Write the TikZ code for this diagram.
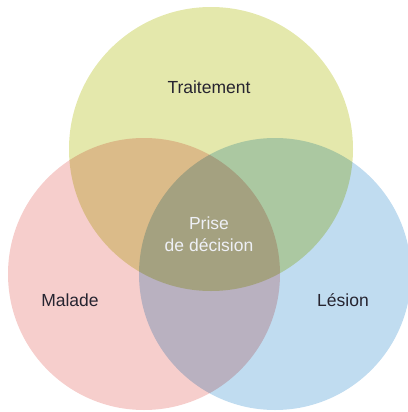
\documentclass[tikz,border=0pt]{standalone}
\usepackage{fontspec}
\setmainfont{Liberation Sans}
\usepackage{xcolor}
\usetikzlibrary{positioning}

\definecolor{traitementfill}{RGB}{228,232,172}
\definecolor{maladefill}{RGB}{246,206,204}
\definecolor{lesionfill}{RGB}{192,220,240}
\definecolor{labeltext}{RGB}{38,36,48}
\definecolor{centretext}{RGB}{238,240,246}

\begin{document}
\begin{tikzpicture}[
    x=1pt, y=-1pt,
    set node/.style={circle,inner sep=0pt,draw=none},
    set label/.style={font=\fontsize{17.5}{21}\selectfont,text=labeltext},
    centre label/.style={font=\fontsize{17.5}{22}\selectfont,text=centretext,align=center}
]
\useasboundingbox (0,0) rectangle (407,412);

% the three sets, overlaps darkened by multiplying
\begin{scope}[blend group=multiply]
\node[set node,fill=traitementfill,minimum size=284pt] (traitement) at (211,149) {};
\node[set node,fill=maladefill,minimum size=272pt] (malade) at (144,274) {};
\node[set node,fill=lesionfill,minimum size=272pt] (lesion) at (275,274) {};
\end{scope}

\node[set label] (traitementtxt) at (209,87) {Traitement};
\node[set label] (maladetxt) at (70,300) {Malade};
\node[set label] (lesiontxt) at (343,300) {Lésion};
\node[centre label] (decision) at (209,234) {Prise\\de décision};

\end{tikzpicture}
\end{document}
